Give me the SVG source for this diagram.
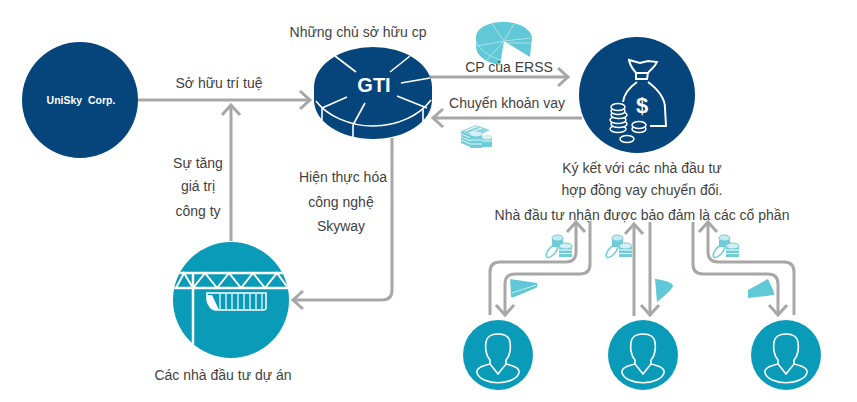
<svg xmlns="http://www.w3.org/2000/svg" xmlns:xlink="http://www.w3.org/1999/xlink" width="857" height="402" viewBox="0 0 857 402">
<style>
text{font-family:"Liberation Sans",Arial,sans-serif;font-size:14px;fill:#3f3f3f;text-anchor:middle}
.c{fill:none;stroke:#a7a7a7;stroke-width:3;stroke-linejoin:round}
.w{fill:none;stroke:#fff;stroke-width:1.6}
.s{fill:#60c8d6}
</style>
<defs>
<marker id="a" markerUnits="userSpaceOnUse" markerWidth="24" markerHeight="24" refX="13" refY="12" orient="auto">
<path d="M3 3L13 12L3 21" fill="none" stroke="#a7a7a7" stroke-width="3"/>
</marker>
<clipPath id="pc"><circle cx="231" cy="300" r="58"/></clipPath>
<g id="coins">
<ellipse cx="-7" cy="5" rx="3.500" ry="8" transform="rotate(40 -7 5)" fill="#fff" stroke="#70ccd9" stroke-width="1.500"/>
<rect x="-7" y="-8" width="11" height="9" fill="#70ccd9"/><ellipse cx="-1.500" cy="-8" rx="5.500" ry="3" fill="#c5eaf0" stroke="#70ccd9"/>
<rect x="0" y="0" width="13" height="11" fill="#70ccd9"/><ellipse cx="6.500" cy="0" rx="6.500" ry="3" fill="#d5f0f4" stroke="#70ccd9"/>
<path d="M0 4h13M0 7.500h13" stroke="#fff"/>
</g>
<g id="person">
<path class="w" d="M-8 7C-12 3-13-5-12-11C-11-17-6-19 0-19C6-19 11-17 12-11C13-5 12 3 8 7L8 11L0 21L-8 11ZM-8 11C-16 13-22 15-21 20C-16 33 16 33 21 20C22 15 16 13 8 11"/>
</g>
</defs>

<g id="connectors">
<path class="c" marker-end="url(#a)" d="M138 100H310"/>
<path class="c" marker-end="url(#a)" d="M430 77H568"/>
<path class="c" marker-end="url(#a)" d="M582 118H433"/>
<path class="c" marker-end="url(#a)" d="M231 241V105"/>
<path class="c" marker-end="url(#a)" d="M392 138V290Q392 300 382 300H293"/>
<path class="c" marker-end="url(#a)" d="M490 315V272Q490 262 500 262H566Q576 262 576 252V222"/>
<path class="c" marker-end="url(#a)" d="M590 221V264Q590 274 580 274H515Q505 274 505 284V315"/>
<path class="c" marker-end="url(#a)" d="M634 316V224"/>
<path class="c" marker-end="url(#a)" d="M650 222V315"/>
<path class="c" marker-end="url(#a)" d="M693 222V264Q693 274 703 274H768Q778 274 778 284V315"/>
<path class="c" marker-end="url(#a)" d="M794 315V272Q794 262 784 262H718Q708 262 708 252V222"/>
</g>

<g id="unisky">
<circle cx="80" cy="100" r="58" fill="#05457b"/>
<text x="81" y="104" style="font-size:10.500px;font-weight:bold;fill:#fff;white-space:pre">UniSky  Corp.</text>
</g>

<g id="gti">
<path d="M314 87V100C314 122 341 139 373 139C405 139 432 122 432 100V87Z" fill="#05457b"/>
<ellipse cx="373" cy="87" rx="59" ry="40" fill="#05457b"/>
<path class="w" d="M316 101C327 116 350 126 373 126C398 126 420 115 431 100M322 108V120M353 125V137M423 108V122"/>
<path class="w" d="M335 56L356 72M410 56L390 72M401 83L430 78M397 96L427 108M365 103L353 125M347 97L322 108"/>
<text x="374" y="92" style="font-size:20px;font-weight:bold;fill:#fff">GTI</text>
</g>

<g id="money">
<circle cx="637" cy="95" r="58" fill="#05457b"/>
<path class="w" style="stroke-width:2" d="M636 73C632 68 630 66 629 60L640 63L648 61L657 62C655 67 651 69 648 73M636 73H648L647 79H636ZM637 82C630 87 624 93 623 102M648 82C656 88 665 96 665 108L666 126H650"/>
<text x="642" y="113" style="font-size:22px;font-weight:bold;fill:#fff">$</text>
<g fill="#05457b" stroke="#fff" stroke-width="1.500">
<ellipse cx="618" cy="129" rx="8" ry="3.500"/><ellipse cx="619" cy="124" rx="8" ry="3.500"/><ellipse cx="618" cy="120" rx="8" ry="3.500"/><ellipse cx="619" cy="115" rx="8" ry="3.500"/><ellipse cx="618" cy="111" rx="7" ry="3.500"/><ellipse cx="618" cy="107" rx="7" ry="3.500"/>
<ellipse cx="639" cy="129" rx="7" ry="3.500"/><ellipse cx="639" cy="125" rx="7" ry="3.500"/>
<ellipse cx="627" cy="139" rx="7" ry="3.500"/>
</g>
</g>

<g id="project">
<circle cx="231" cy="300" r="58" fill="#0a9bb8"/>
<g clip-path="url(#pc)">
<path d="M170 273H292M170 288H292M193 273V350" stroke="#fff" stroke-width="2.500" fill="none"/>
<path class="w" style="stroke-width:2" d="M176 288L184 273L193 288L205 273L217 288L229 273L241 288L253 273L265 288L277 273L288 288"/>
</g>
<path d="M207 293H266V308Q266 310 263 310H216Q209 309 207 300Z" fill="#0a9bb8" stroke="#fff" stroke-width="1.500"/>
<path d="M207 295H212L219 310H214Q209 308 207 300Z" fill="#fff"/>
<path class="w" style="stroke-width:1.200" d="M220 294V309M226 294V309M232 294V309M238 294V309M244 294V309M250 294V309M256 294V309M262 294V309"/>
</g>

<g id="investor1"><circle cx="498" cy="355" r="35" fill="#0a9bb8"/><use xlink:href="#person" href="#person" x="498" y="353"/></g>
<g id="investor2"><circle cx="643" cy="355" r="35" fill="#0a9bb8"/><use xlink:href="#person" href="#person" x="643" y="353"/></g>
<g id="investor3"><circle cx="786" cy="355" r="35" fill="#0a9bb8"/><use xlink:href="#person" href="#person" x="786" y="353"/></g>

<g id="decor">
<path class="s" d="M504 41L500 65C487 63 476 56 476 46V38C476 28 488 22 504 22C520 22 532 30 532 38L531 47L530 57Z"/>
<path d="M504 41L514 24M504 41L492 24M504 41L477 46M504 41L487 60M504 41L531 38M476 41C478 48 488 56 500 60M531 43L506 43" fill="none" stroke="#a8e2ea" stroke-width="1"/>
<g>
<path d="M461 131L476 125L490 130L476 137Z" fill="#8ad5e0"/>
<path d="M465 131L478 126M469 133L482 128" stroke="#fff" fill="none"/>
<path d="M461 131V143L473 148V136Z" fill="#70ccd9"/>
<path d="M461 134L473 139M461 137L473 142M461 140L473 145" stroke="#fff" fill="none" stroke-width=".8"/>
<rect x="470" y="134" width="12" height="14" fill="#70ccd9"/><ellipse cx="476" cy="134" rx="6" ry="2.500" fill="#d5f0f4"/>
<rect x="482" y="137" width="10" height="10" fill="#70ccd9"/><ellipse cx="487" cy="137" rx="5" ry="2.500" fill="#d5f0f4"/>
<path d="M470 140h12M470 144h12M482 141h10" stroke="#fff" fill="none" stroke-width=".8"/>
</g>
<use xlink:href="#coins" href="#coins" x="559" y="246"/>
<use xlink:href="#coins" href="#coins" x="619" y="246"/>
<use xlink:href="#coins" href="#coins" x="726" y="246"/>
<path class="s" d="M510 279L537 283Q538 287 536 288L514 297Q510 298 511 294Z"/>
<path d="M512 293L536 285" stroke="#c5eaf0" fill="none"/>
<path class="s" d="M655 279Q672 281 673 286Q672 290 657 302Z"/>
<path class="s" d="M748 298V290L768 279L774 292V295Z"/>
</g>

<g id="labels">
<text x="358" y="37">Những chủ sở hữu cp</text>
<text x="219" y="88">Sở hữu trí tuệ</text>
<text x="509" y="72">CP của ERSS</text>
<text x="507" y="108">Chuyển khoản vay</text>
<text x="198" y="168">Sự tăng</text>
<text x="198" y="191">giá trị</text>
<text x="198" y="216">công ty</text>
<text x="343" y="182">Hiện thực hóa</text>
<text x="341" y="207">công nghệ</text>
<text x="341" y="231">Skyway</text>
<text x="223" y="380">Các nhà đầu tư dự án</text>
<text x="642" y="173">Ký kết với các nhà đầu tư</text>
<text x="642" y="195">hợp đồng vay chuyển đổi.</text>
<text x="642" y="220">Nhà đầu tư nhận được bảo đảm là các cổ phần</text>
</g>
</svg>
